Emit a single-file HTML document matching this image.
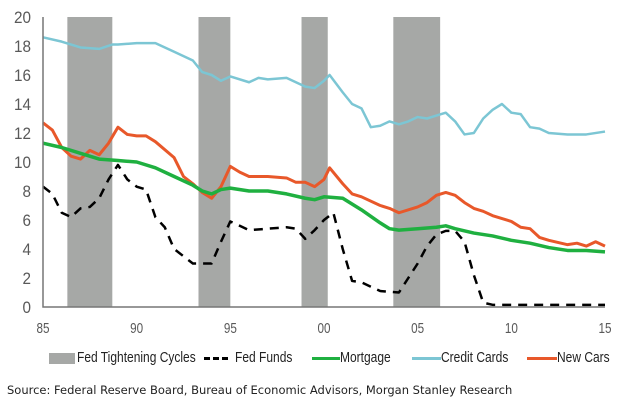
<!DOCTYPE html>
<html><head><meta charset="utf-8"><style>
body{margin:0;background:#fff;width:640px;height:400px;overflow:hidden}
svg text{font-family:"Liberation Sans",sans-serif}
.lt{position:absolute;top:0;display:inline-block;transform:scaleX(0.8);transform-origin:left top;white-space:nowrap}
</style></head><body>
<svg id="chart" width="640" height="400"></svg>
<script>
const years = [85,90,95,100,105,110,115];
const tickLabels = ["85","90","95","00","05","10","15"];
const yTicks = [0,2,4,6,8,10,12,14,16,18,20];
const cycles = [[86.3,88.7],[93.3,95.0],[98.8,100.2],[103.7,106.2]];
const ccX=[85,86,87,88,88.7,89,90,91,92,93,93.5,94,94.5,95,96,96.5,97,98,99,99.5,100,100.3,101,101.5,102,102.5,103,103.5,104,104.5,105,105.5,106,106.5,107,107.5,108,108.5,109,109.5,110,110.5,111,111.5,112,113,114,115];
const ccY=[18.6,18.3,17.9,17.8,18.1,18.1,18.2,18.2,17.6,17.0,16.2,16.0,15.6,15.9,15.5,15.8,15.7,15.8,15.2,15.1,15.6,16.0,14.8,14.0,13.7,12.4,12.5,12.8,12.6,12.8,13.1,13.0,13.2,13.4,12.8,11.9,12.0,13.0,13.6,14.0,13.4,13.3,12.4,12.3,12.0,11.9,11.9,12.1];
const carX=[85,85.5,86,86.5,87,87.5,88,88.5,89,89.5,90,90.5,91,92,92.5,93,93.5,94,94.5,95,95.5,96,97,98,98.5,99,99.5,100,100.3,101,101.5,102,103,103.5,104,105,105.5,106,106.5,107,107.5,108,108.5,109,110,110.5,111,111.5,112,113,113.5,114,114.5,115];
const carY=[12.7,12.2,11.0,10.4,10.2,10.8,10.5,11.3,12.4,11.9,11.8,11.8,11.4,10.3,9.0,8.5,7.9,7.5,8.3,9.7,9.3,9.0,9.0,8.9,8.6,8.6,8.3,8.8,9.6,8.5,7.8,7.6,7.0,6.8,6.5,6.9,7.2,7.7,7.9,7.7,7.2,6.8,6.6,6.3,5.9,5.5,5.4,4.8,4.6,4.3,4.4,4.2,4.5,4.2];
const mortX=[85,86,87,88,89,90,91,92,93,93.5,94,94.5,95,96,97,98,99,99.5,100,101,102,103,103.5,104,105,106,106.5,107,108,109,110,111,112,113,114,115];
const mortY=[11.3,11.0,10.6,10.2,10.1,10.0,9.6,9.0,8.4,8.0,7.8,8.1,8.2,8.0,8.0,7.8,7.5,7.4,7.6,7.5,6.7,5.8,5.4,5.3,5.4,5.5,5.6,5.4,5.1,4.9,4.6,4.4,4.1,3.9,3.9,3.8];
const ffX=[85,85.5,86,86.5,87,87.5,88,88.5,89,89.5,90,90.5,91,91.5,92,93,93.5,94,94.5,95,95.5,96,97,98,98.5,99,99.5,100,100.5,101,101.5,102,103,104,104.5,105,105.5,106,106.5,107,107.5,108,108.5,109,115];
const ffY=[8.3,7.8,6.5,6.2,6.8,6.9,7.5,8.8,9.8,8.8,8.3,8.1,6.2,5.5,4.0,3.0,3.0,3.0,4.5,5.9,5.6,5.3,5.4,5.5,5.4,4.7,5.3,6.0,6.5,4.0,1.8,1.7,1.1,1.0,2.0,3.0,4.2,5.0,5.25,5.25,4.5,2.2,0.3,0.15,0.15];

const svg=document.getElementById('chart');
const NS='http://www.w3.org/2000/svg';
const X0=43,X1=605,Y0=307,Y1=17;
const xs=v=>X0+(v-85)/30*(X1-X0);
const ys=v=>Y0-v/20*(Y0-Y1);
function mk(t,a,p){const e=document.createElementNS(NS,t);for(const k in a)e.setAttribute(k,a[k]);(p||svg).appendChild(e);return e;}
cycles.forEach((c,i)=>{
  const r=mk('rect',{x:xs(c[0]),y:Y1,width:xs(c[1])-xs(c[0]),height:Y0-Y1,fill:'#a6a8a6'});
  
  
});
yTicks.forEach(v=>{
  const t=mk('text',{x:31,y:ys(v)+6,'text-anchor':'end','font-size':17,fill:'#595959',textLength:String(v).length*8.5,lengthAdjust:'spacingAndGlyphs'});
  t.textContent=v;
  
  
});
years.forEach((v,i)=>{
  const t=mk('text',{x:xs(v),y:333,'text-anchor':'middle','font-size':15,fill:'#595959',textLength:13,lengthAdjust:'spacingAndGlyphs'});
  t.textContent=tickLabels[i];
  
  
});
function line(X,Y,color,w,dash,name){
  const p=mk('polyline',{points:X.map((x,i)=>xs(x)+','+ys(Y[i])).join(' '),fill:'none',stroke:color,'stroke-width':w,'stroke-linejoin':'round'});
  if(dash)p.setAttribute('stroke-dasharray',dash);
  
  
}
line(ccX,ccY,'#7cc6d4',2.5,null,'credit-cards-line');
line(carX,carY,'#e8582a',3,null,'new-cars-line');
line(mortX,mortY,'#1fb040',3.5,null,'mortgage-line');
line(ffX,ffY,'#000',2.5,'9,7','fed-funds-line');
const ax=mk('polyline',{points:`${X0},${Y1} ${X0},${Y0} ${X1},${Y0}`,fill:'none',stroke:'#777','stroke-width':1.5});


</script>
<div style="position:absolute;left:0;top:349px;width:640px;height:22px;font-family:'Liberation Sans',sans-serif;font-size:15px;color:#222">
 <div style="position:absolute;left:49px;top:4px;width:26px;height:11px;background:#a6a8a6"></div>
 <span class="lt" style="left:77px;">Fed Tightening Cycles</span>
 <div style="position:absolute;left:204px;top:8px;width:24px;border-top:3px dashed #000"></div>
 <span class="lt" style="left:235px;">Fed Funds</span>
 <div style="position:absolute;left:312px;top:8px;width:28px;border-top:3px solid #1fb040"></div>
 <span class="lt" style="left:340px;">Mortgage</span>
 <div style="position:absolute;left:412px;top:8px;width:29px;border-top:3px solid #7cc6d4"></div>
 <span class="lt" style="left:441px;">Credit Cards</span>
 <div style="position:absolute;left:527px;top:8px;width:30px;border-top:3px solid #e8582a"></div>
 <span class="lt" style="left:557px;">New Cars</span>
</div>
<div style="position:absolute;left:7px;top:383px;font-family:'DejaVu Sans',sans-serif;font-size:11.5px;color:#222">Source: Federal Reserve Board, Bureau of Economic Advisors, Morgan Stanley Research</div>
</body></html>
